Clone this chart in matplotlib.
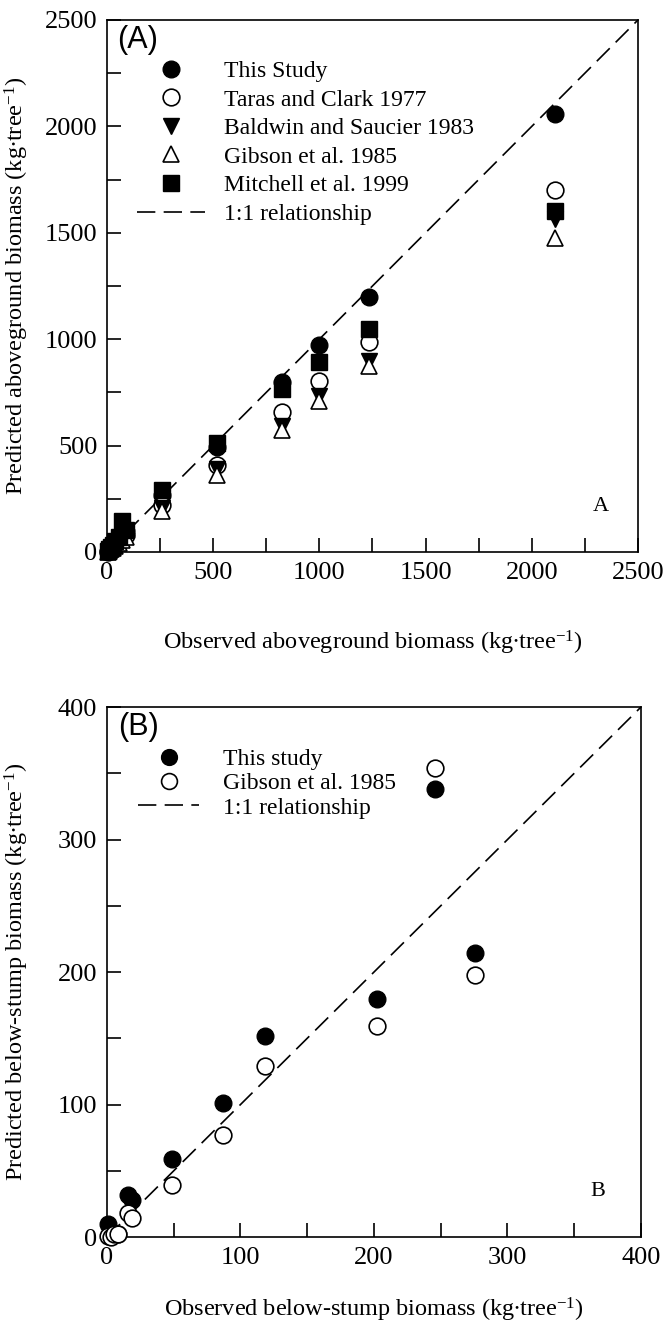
import matplotlib
matplotlib.use('Agg')
import matplotlib.pyplot as plt
from matplotlib.ticker import MultipleLocator

plt.rcParams.update({
    'font.family': 'Liberation Serif',
    'font.size': 17,
    'mathtext.fontset': 'custom',
    'mathtext.rm': 'Liberation Serif',
    'mathtext.it': 'Liberation Serif:italic',
})

# ---- panel A data (kg/tree) ----
obs_above = [4, 10, 18, 28, 40, 55, 72, 90, 258, 516, 822, 1000, 1235, 2110]
this_study_above = [3, 9, 17, 27, 40, 56, 78, 100, 269, 491, 797, 972, 1198, 2060]
taras_above = [2, 7, 14, 22, 33, 46, 62, 78, 222, 410, 656, 802, 986, 1703]
baldwin_above = [2, 6, 13, 21, 31, 43, 58, 72, 207, 391, 594, 731, 896, 1566]
gibson_above = [2, 6, 12, 20, 30, 41, 56, 70, 193, 363, 575, 708, 873, 1476]
mitchell_above = [5, 12, 22, 34, 50, 70, 145, 104, 292, 514, 764, 891, 1047, 1604]

# ---- panel B data (kg/tree) ----
obs_below = [1, 3, 5, 8, 16, 19, 49, 87, 118, 202, 246, 276]
this_study_below = [10, 4, 3, 2, 32, 28, 59, 101, 152, 180, 338, 214]
gibson_below = [1, 0, 2, 2, 18, 14, 39, 77, 129, 159, 354, 198]

fig = plt.figure(figsize=(6.65, 13.3), dpi=100)
ax1 = fig.add_axes([0.1609, 0.5850, 0.7985, 0.4000])
ax2 = fig.add_axes([0.1609, 0.0699, 0.8030, 0.3985])

ms = 12
line_kw = dict(color='black', linestyle=(0, (11, 5)), linewidth=1.2)
label_unit = r' (kg$\bullet$tree$^{\mathregular{-1}}$)'
filled = dict(color='black', markersize=ms, zorder=3, clip_on=False)
hollow = dict(markerfacecolor='white', markeredgecolor='black', markeredgewidth=1.2,
              markersize=ms, zorder=3, clip_on=False)

# panel A
ax1.plot(obs_above, this_study_above, 'o', label='This Study', **filled)
ax1.plot(obs_above, taras_above, 'o', label='Taras and Clark 1977', **hollow)
ax1.plot(obs_above, baldwin_above, 'v', label='Baldwin and Saucier 1983', **filled)
ax1.plot(obs_above, gibson_above, '^', label='Gibson et al. 1985', **hollow)
ax1.plot(obs_above, mitchell_above, 's', color='black', markersize=ms - 1, zorder=3,
         clip_on=False, label='Mitchell et al. 1999')
ax1.plot([0, 2500], [0, 2500], label='1:1 relationship', **line_kw)

ax1.set_xlim(0, 2500)
ax1.set_ylim(0, 2500)
ax1.xaxis.set_major_locator(MultipleLocator(500))
ax1.yaxis.set_major_locator(MultipleLocator(500))
ax1.xaxis.set_minor_locator(MultipleLocator(250))
ax1.yaxis.set_minor_locator(MultipleLocator(250))
ax1.set_xlabel('Observed aboveground biomass' + label_unit, fontsize=17.5, va='top')
ax1.set_ylabel('Predicted aboveground biomass' + label_unit, fontsize=17.5)
ax1.xaxis.set_label_coords(0.5, -0.145)
ax1.yaxis.set_label_coords(-0.143, 0.5)
ax1.text(0.02, 0.99, '(A)', transform=ax1.transAxes, family='Liberation Sans',
         fontsize=22, va='top', ha='left')
ax1.text(0.93, 0.085, 'A', transform=ax1.transAxes, fontsize=16, ha='center', va='center')
ax1.legend(loc='upper left', bbox_to_anchor=(0.056, 0.924), frameon=False,
           borderpad=0, borderaxespad=0, handlelength=2.9, handletextpad=0.8,
           labelspacing=0.3, fontsize=17, markerscale=1.0)

# panel B
ax2.plot(obs_below, this_study_below, 'o', label='This study', **filled)
ax2.plot(obs_below, gibson_below, 'o', label='Gibson et al. 1985', **hollow)
ax2.plot([0, 400], [0, 400], label='1:1 relationship', **line_kw)

ax2.set_xlim(0, 400)
ax2.set_ylim(0, 400)
ax2.xaxis.set_major_locator(MultipleLocator(100))
ax2.yaxis.set_major_locator(MultipleLocator(100))
ax2.xaxis.set_minor_locator(MultipleLocator(50))
ax2.yaxis.set_minor_locator(MultipleLocator(50))
ax2.set_xlabel('Observed below-stump biomass' + label_unit, fontsize=17.5, va='top')
ax2.set_ylabel('Predicted below-stump biomass' + label_unit, fontsize=17.5)
ax2.xaxis.set_label_coords(0.5, -0.111)
ax2.yaxis.set_label_coords(-0.143, 0.5)
ax2.text(0.02, 0.99, '(B)', transform=ax2.transAxes, family='Liberation Sans',
         fontsize=22, va='top', ha='left')
ax2.text(0.92, 0.085, 'B', transform=ax2.transAxes, fontsize=16, ha='center', va='center')
ax2.legend(loc='upper left', bbox_to_anchor=(0.058, 0.922), frameon=False,
           borderpad=0, borderaxespad=0, handlelength=2.6, handletextpad=1.0,
           labelspacing=0.12, fontsize=17, markerscale=0.95)

for ax in (ax1, ax2):
    for sp in ax.spines.values():
        sp.set_linewidth(1.2)
    ax.tick_params(which='both', direction='in', length=10, width=1.2,
                   top=False, right=False, pad=7, labelsize=19)

fig.savefig('out.png', dpi=100)
